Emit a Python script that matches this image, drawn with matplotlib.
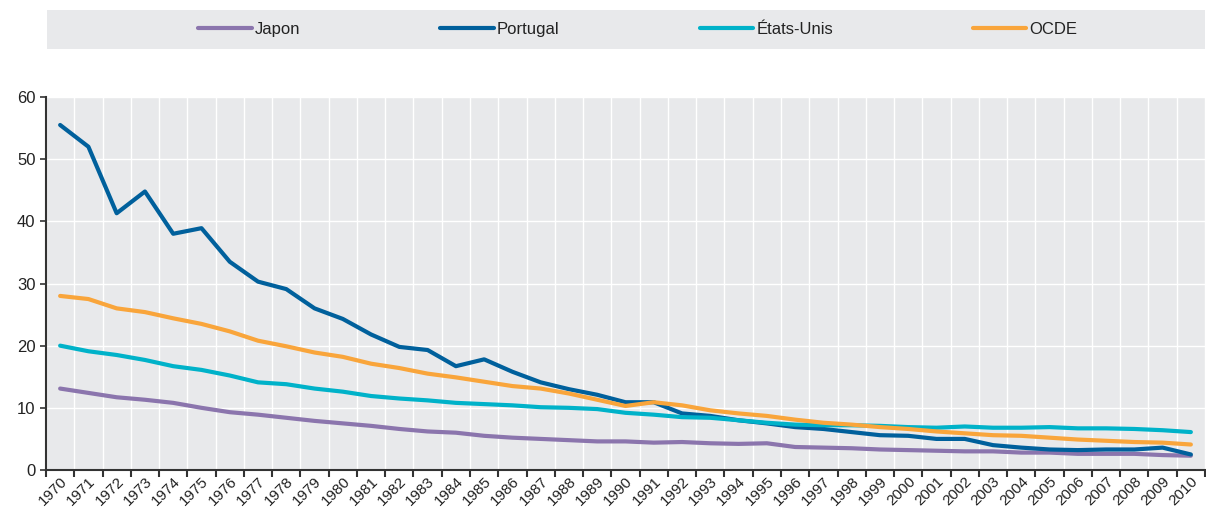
import numpy as np
import matplotlib.pyplot as plt
from matplotlib.patches import Rectangle

plt.rcParams['font.family'] = ['Liberation Sans', 'DejaVu Sans']

years = list(range(1970, 2011))
japon = [13.1, 12.4, 11.7, 11.3, 10.8, 10.0, 9.3, 8.9, 8.4, 7.9, 7.5, 7.1, 6.6, 6.2, 6.0, 5.5, 5.2, 5.0, 4.8, 4.6,
         4.6, 4.4, 4.5, 4.3, 4.2, 4.3, 3.7, 3.6, 3.5, 3.3, 3.2, 3.1, 3.0, 3.0, 2.8, 2.8, 2.6, 2.6, 2.6, 2.4, 2.3]
portugal = [55.5, 52.0, 41.3, 44.8, 38.0, 38.9, 33.5, 30.3, 29.1, 26.0, 24.3, 21.8, 19.8, 19.3, 16.7, 17.8, 15.8, 14.1, 13.0, 12.1,
            10.9, 10.9, 9.1, 8.7, 8.0, 7.5, 6.9, 6.6, 6.1, 5.6, 5.5, 5.0, 5.0, 4.0, 3.6, 3.3, 3.2, 3.3, 3.3, 3.6, 2.5]
etats_unis = [20.0, 19.1, 18.5, 17.7, 16.7, 16.1, 15.2, 14.1, 13.8, 13.1, 12.6, 11.9, 11.5, 11.2, 10.8, 10.6, 10.4, 10.1, 10.0, 9.8,
              9.2, 8.9, 8.5, 8.4, 8.0, 7.6, 7.3, 7.2, 7.2, 7.1, 6.9, 6.8, 7.0, 6.8, 6.8, 6.9, 6.7, 6.7, 6.6, 6.4, 6.1]
ocde = [28.0, 27.5, 26.0, 25.4, 24.4, 23.5, 22.3, 20.8, 19.9, 18.9, 18.2, 17.1, 16.4, 15.5, 14.9, 14.2, 13.5, 13.1, 12.3, 11.3,
        10.3, 10.9, 10.4, 9.6, 9.1, 8.7, 8.1, 7.6, 7.3, 6.9, 6.6, 6.2, 5.9, 5.6, 5.5, 5.2, 4.9, 4.7, 4.5, 4.4, 4.1]

series = [("Japon", japon, "#8b75ad"),
          ("Portugal", portugal, "#00609c"),
          ("États-Unis", etats_unis, "#00b2c9"),
          ("OCDE", ocde, "#f9a53b")]

fig = plt.figure(figsize=(12.06, 5.09), dpi=100)
ax = fig.add_axes([46/1206, 1-470/509, 1-47/1206, (470-97)/509])
ax.set_facecolor("#e8e9eb")

x = np.arange(len(years))
for name, vals, col in series:
    ax.plot(x, vals, color=col, lw=3, label=name, solid_capstyle='round', zorder=3)

ax.set_xlim(-0.5, len(years) - 0.5)
ax.set_ylim(0, 60)
ax.set_yticks(range(0, 61, 10))
ax.set_xticks(x)
ax.set_xticklabels([str(y) for y in years], rotation=45, ha='right', rotation_mode='anchor', fontsize=11, color='#222222')
ax.set_xticks(np.arange(-0.5, len(years)), minor=True)
ax.tick_params(axis='x', which='major', length=0, pad=3)
ax.tick_params(axis='x', which='minor', length=5, width=1.5, color='#333333')
ax.tick_params(axis='y', labelsize=12, length=4, width=1.2, color='#333333', labelcolor='#222222')
ax.grid(True, axis='x', which='minor', color='white', lw=1)
ax.grid(True, axis='y', which='major', color='white', lw=1)
ax.set_axisbelow(True)
for s in ['top', 'right']:
    ax.spines[s].set_visible(False)
for s in ['left', 'bottom']:
    ax.spines[s].set_color('#333333')
    ax.spines[s].set_linewidth(1.5)

# legend band on top
fig.patches.append(Rectangle((47/1206, 1-49/509), (1205-47)/1206, 39/509, transform=fig.transFigure,
                             facecolor="#e8e9eb", edgecolor='none', zorder=0))
handles, labels = ax.get_legend_handles_labels()
leg = fig.legend(handles, labels, loc='center', ncol=4, bbox_to_anchor=(0.529, 1-29.5/509),
                 frameon=False, fontsize=12, handlelength=3.2, handletextpad=0.2, columnspacing=8.4)
for t in leg.get_texts():
    t.set_color('#222222')

plt.savefig('out.png', dpi=100)
